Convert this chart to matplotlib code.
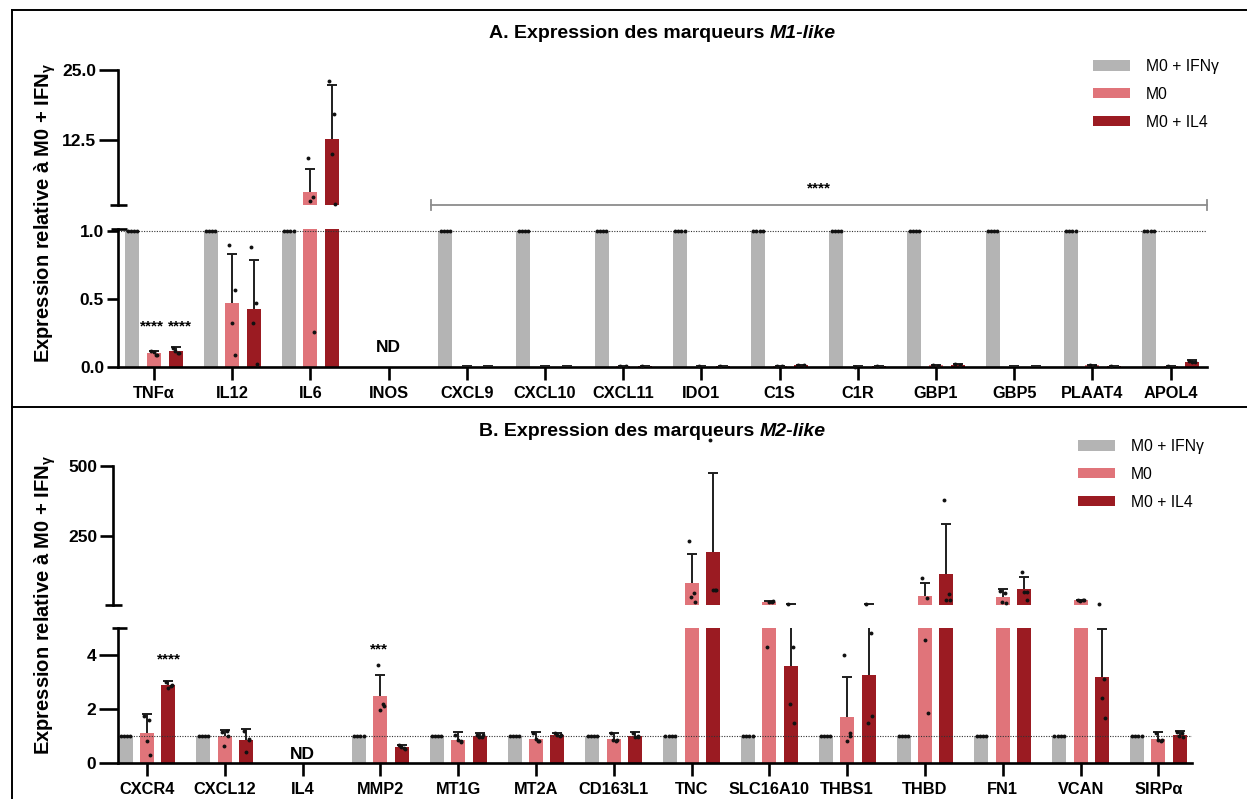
import numpy as np
import matplotlib
matplotlib.use("Agg")
import matplotlib.pyplot as plt
from matplotlib.patches import Patch
from matplotlib.lines import Line2D
from matplotlib.transforms import blended_transform_factory

plt.rcParams['font.family'] = ['Liberation Sans', 'DejaVu Sans']

# ---------------- data ----------------
groups = ["M0 + IFNγ", "M0", "M0 + IL4"]
colors = ["#b4b4b4", "#e0747a", "#9b1b22"]

nan = np.nan

# Panel A : M1-like markers
a_genes = ["TNFα", "IL12", "IL6", "INOS", "CXCL9", "CXCL10", "CXCL11", "IDO1",
           "C1S", "C1R", "GBP1", "GBP5", "PLAAT4", "APOL4"]
a_ifng_mean = [1, 1, 1, nan, 1, 1, 1, 1, 1, 1, 1, 1, 1, 1]
a_ifng_sd = [0, 0, 0, nan, 0, 0, 0, 0, 0, 0, 0, 0, 0, 0]
a_m0_mean = [0.10, 0.47, 3.4, nan, 0.002, 0.002, 0.006, 0.003, 0.006, 0.003, 0.012, 0.002, 0.012, 0.004]
a_m0_sd = [0.02, 0.36, 4.0, nan, 0.002, 0.002, 0.003, 0.002, 0.004, 0.002, 0.005, 0.002, 0.005, 0.002]
a_il4_mean = [0.115, 0.43, 12.8, nan, 0.002, 0.002, 0.006, 0.004, 0.012, 0.004, 0.018, 0.002, 0.006, 0.04]
a_il4_sd = [0.03, 0.36, 9.6, nan, 0.002, 0.002, 0.003, 0.002, 0.005, 0.002, 0.006, 0.002, 0.003, 0.008]
a_ifng_pts = [[1, 1, 1, 1]] * 3 + [[]] + [[1, 1, 1, 1]] * 10
a_m0_pts = [[0.12, 0.09, 0.11, 0.09], [0.90, 0.57, 0.32, 0.09], [9.4, 2.4, 1.7, 0.26], [],
            [], [], [0.006, 0.008], [0.004], [0.008, 0.004], [0.003], [0.015, 0.010], [],
            [0.015, 0.010], [0.005]]
a_il4_pts = [[0.14, 0.10, 0.12, 0.10], [0.88, 0.47, 0.32, 0.02], [23.1, 17.1, 10.1, 1.1], [],
             [], [], [0.008], [0.004], [0.016, 0.012], [0.004], [0.022, 0.016], [],
             [0.008], [0.045, 0.04, 0.035]]

# Panel B : M2-like markers
b_genes = ["CXCR4", "CXCL12", "IL4", "MMP2", "MT1G", "MT2A", "CD163L1", "TNC",
           "SLC16A10", "THBS1", "THBD", "FN1", "VCAN", "SIRPα"]
b_ifng_mean = [1, 1, nan, 1, 1, 1, 1, 1, 1, 1, 1, 1, 1, 1]
b_ifng_sd = [0, 0, nan, 0, 0, 0, 0, 0, 0, 0, 0, 0, 0, 0]
b_m0_mean = [1.11, 0.99, nan, 2.47, 0.87, 0.90, 0.90, 82, 13, 1.7, 34, 32, 20, 0.90]
b_m0_sd = [0.70, 0.22, nan, 0.80, 0.28, 0.23, 0.22, 104, 5, 1.5, 48, 29, 3, 0.25]
b_il4_mean = [2.88, 0.84, nan, 0.58, 1.0, 1.05, 1.0, 193, 3.6, 3.25, 116, 60, 3.2, 1.05]
b_il4_sd = [0.17, 0.42, nan, 0.10, 0.10, 0.07, 0.15, 282, 2.3, 3.0, 177, 44, 1.75, 0.15]
b_ifng_pts = [[1, 1, 1, 1]] * 2 + [[]] + [[1, 1, 1, 1]] * 11
b_m0_pts = [[1.75, 1.6, 0.8, 0.31], [1.15, 1.2, 0.62, 1.0], [], [3.64, 2.2, 1.98, 2.1],
            [1.05, 0.8, 0.85, 0.78], [1.1, 0.8, 0.9, 0.8], [1.1, 0.8, 0.85, 0.85],
            [232, 46, 32, 14], [4.3, 16, 15, 17], [4.0, 1.0, 0.8, 1.1],
            [100, 29, 4.55, 1.85], [55, 48, 14, 11], [20, 22, 19, 21], [1.1, 0.8, 0.85, 0.85]]
b_il4_pts = [[3.0, 2.85, 2.78, 2.9], [1.2, 0.9, 0.4, 0.85], [], [0.65, 0.55, 0.6, 0.52],
             [1.05, 0.98, 0.95, 1.02], [1.1, 1.0, 1.05, 1.05], [1.1, 1.0, 0.95, 0.95],
             [593, 57, 57, 57], [6.5, 4.3, 2.2, 1.5], [6.0, 4.8, 1.5, 1.75],
             [379, 43, 21, 21], [121, 50, 50, 21], [5.7, 3.1, 2.4, 1.67], [1.15, 1.1, 1.0, 0.95]]

# ---------------- figure ----------------
W, H = 1247, 799
fig = plt.figure(figsize=(W / 100, H / 100), dpi=100)


def ax_px(l, t, r, b):
    return fig.add_axes([l / W, 1 - b / H, (r - l) / W, (b - t) / H])


def fx(x):
    return x / W


def fy(y):
    return 1 - y / H


offs = [-0.276, 0.0, 0.276]
bw = 0.18
jit_gray = [-0.06, -0.02, 0.02, 0.06]
jit_col = [-0.035, 0.03, -0.005, 0.04]
EC = '#1e1e1e'


def style_axes(ax_t, ax_b, cats, xlim_t, xlim_b, ylim_t, ylim_b, yt_t, yl_t, yt_b, yl_b,
               tl_t, tl_b):
    ax_t.set_xlim(*xlim_t)
    ax_b.set_xlim(*xlim_b)
    ax_t.set_ylim(*ylim_t)
    ax_b.set_ylim(*ylim_b)
    for ax in (ax_t, ax_b):
        ax.set_facecolor('none')
        for s in ('top', 'right'):
            ax.spines[s].set_visible(False)
        ax.spines['left'].set_linewidth(1.9)
        ax.spines['bottom'].set_linewidth(1.9)
    ax_t.spines['bottom'].set_visible(False)
    ax_t.set_xticks([])
    ax_t.set_yticks(yt_t)
    ax_t.set_yticklabels(yl_t, fontsize=12.5, fontweight='bold')
    ax_t.tick_params(axis='y', length=tl_t, width=1.9, pad=2)
    ax_b.set_yticks(yt_b)
    ax_b.set_yticklabels(yl_b, fontsize=12.5, fontweight='bold')
    ax_b.tick_params(axis='y', length=tl_b, width=1.9, pad=2)
    ax_b.set_xticks(np.arange(len(cats)))
    ax_b.set_xticklabels(cats, fontsize=11.8, fontweight='bold')
    ax_b.tick_params(axis='x', length=9, width=1.9, pad=5)
    # break caps
    tr_t = blended_transform_factory(ax_t.transAxes, ax_t.transData)
    tr_b = blended_transform_factory(ax_b.transAxes, ax_b.transData)
    ax_t.plot([-0.007, 0.008], [ylim_t[0], ylim_t[0]], transform=tr_t, color='black',
              lw=1.9, clip_on=False, solid_capstyle='butt')
    ax_b.plot([-0.006, 0.008], [ylim_b[1], ylim_b[1]], transform=tr_b, color='black',
              lw=1.9, clip_on=False, solid_capstyle='butt')
    ax_b.axhline(1.0, color='#333333', lw=0.8, ls=(0, (1, 1.3)), zorder=2.5)


def draw_data(ax_t, ax_b, cats, means, sds, pts, split):
    x = np.arange(len(cats))
    for ax in (ax_t, ax_b):
        lo, hi = ax.get_ylim()
        for k in range(3):
            xs = x + offs[k]
            m = np.asarray(means[k], float)
            s = np.asarray(sds[k], float)
            ax.bar(xs, m, width=bw, color=colors[k], zorder=2, linewidth=0)
            ok = np.isfinite(m) & (s > 0)
            ax.vlines(xs[ok], m[ok], m[ok] + s[ok], color=EC, lw=1.4, zorder=3)
            top = m + s
            capok = ok & (top >= lo) & (top <= hi)
            ax.plot(xs[capok], top[capok], ls='none', marker='_', ms=7, mew=1.4,
                    color=EC, zorder=3)
    for k in range(3):
        jit = jit_gray if k == 0 else jit_col
        for i, p in enumerate(pts[k]):
            for j, v in enumerate(p):
                ax = ax_t if v > split else ax_b
                ax.plot(x[i] + offs[k] + jit[j % 4], v, 'o', ms=2.8, color='#111111',
                        mec='none', clip_on=False, zorder=4)


def title2(xc, y, s1, s2, size=14):
    t1 = fig.text(0, fy(y), s1, fontsize=size, fontweight='bold', ha='left', va='center')
    t2 = fig.text(0, fy(y), s2, fontsize=size, fontweight='bold', fontstyle='italic',
                  ha='left', va='center')
    fig.canvas.draw()
    r = fig.canvas.get_renderer()
    w1 = t1.get_window_extent(r).width
    w2 = t2.get_window_extent(r).width
    gap = 0.278 * size * 100 / 72
    x0 = xc - (w1 + gap + w2) / 2
    t1.set_x(fx(x0))
    t2.set_x(fx(x0 + w1 + gap))


def legend_at(x, y):
    handles = [Patch(facecolor=c, edgecolor='none', label=g) for c, g in zip(colors, groups)]
    fig.legend(handles=handles, loc='upper left', bbox_to_anchor=(fx(x), fy(y)),
               frameon=False, fontsize=11.3, handlelength=2.35, handleheight=0.62,
               handletextpad=1.0, labelspacing=0.82, borderpad=0, borderaxespad=0)


# ---------------- Panel A ----------------
a_top = ax_px(118, 70, 1207, 205)
a_bot = ax_px(118, 229, 1207, 367)
style_axes(a_top, a_bot, a_genes,
           ((118 - 154) / 78.2, (1207 - 154) / 78.2), ((118 - 154) / 78.2, (1207 - 154) / 78.2),
           (1, 25), (0, 1.015), [12.5, 25.0], ["12.5", "25.0"], [0, 0.5, 1.0],
           ["0.0", "0.5", "1.0"], 13.5, 8)
draw_data(a_top, a_bot, a_genes, [a_ifng_mean, a_m0_mean, a_il4_mean],
          [a_ifng_sd, a_m0_sd, a_il4_sd], [a_ifng_pts, a_m0_pts, a_il4_pts], 1.015)

a_bot.text(0 + offs[1] - 0.03, 0.27, "****", ha='center', va='baseline', fontsize=11,
           fontweight='bold')
a_bot.text(0 + offs[2] + 0.05, 0.27, "****", ha='center', va='baseline', fontsize=11,
           fontweight='bold')
a_bot.text(3, 0.11, "ND", ha='center', va='baseline', fontsize=12.5, fontweight='bold')
# bracket over CXCL9..APOL4
bx0, bx1 = 4 - 0.46, 13 + 0.46
a_top.plot([bx0, bx1], [1, 1], color='#8c8c8c', lw=1.3, clip_on=False, zorder=1)
a_top.plot([bx0, bx0], [0.1, 1.9], color='#8c8c8c', lw=1.3, clip_on=False)
a_top.plot([bx1, bx1], [0.1, 1.9], color='#8c8c8c', lw=1.3, clip_on=False)
a_top.text(8.5, 3.2, "****", ha='center', va='baseline', fontsize=11, fontweight='bold')

fig.text(fx(45), fy(213), "Expression relative à M0 + IFN$_{\\mathregular{γ}}$", rotation=90,
         ha='center', va='center', fontsize=14.5, fontweight='bold')
title2(662, 33, "A. Expression des marqueurs", "M1-like")
legend_at(1093, 59)

# ---------------- Panel B ----------------
b_top = ax_px(113, 466, 1192, 604.6)
b_bot = ax_px(118, 628, 1192, 763)
style_axes(b_top, b_bot, b_genes,
           ((113 - 147) / 77.8, (1192 - 147) / 77.8), ((118 - 147) / 77.8, (1192 - 147) / 77.8),
           (5, 500), (0, 5), [250, 500], ["250", "500"], [0, 2, 4], ["0", "2", "4"], 9.5, 13.5)
draw_data(b_top, b_bot, b_genes, [b_ifng_mean, b_m0_mean, b_il4_mean],
          [b_ifng_sd, b_m0_sd, b_il4_sd], [b_ifng_pts, b_m0_pts, b_il4_pts], 5)
b_bot.text(0 + offs[2], 3.7, "****", ha='center', va='baseline', fontsize=11,
           fontweight='bold')
b_bot.text(3 + offs[1] - 0.02, 4.05, "***", ha='center', va='baseline', fontsize=11,
           fontweight='bold')
b_bot.text(2, 0.15, "ND", ha='center', va='baseline', fontsize=12.5, fontweight='bold')

fig.text(fx(45), fy(605), "Expression relative à M0 + IFN$_{\\mathregular{γ}}$", rotation=90,
         ha='center', va='center', fontsize=14.5, fontweight='bold')
title2(652, 431, "B. Expression des marqueurs", "M2-like")
legend_at(1078, 439)

# ---------------- frame lines ----------------
for (x0, y0, x1, y1) in [(12, 10, 1247, 10), (12, 10, 12, 799), (12, 407, 1247, 407)]:
    fig.add_artist(Line2D([fx(x0), fx(x1)], [fy(y0), fy(y1)], transform=fig.transFigure,
                          color='black', lw=1.4))

fig.savefig("out.png", dpi=100)
